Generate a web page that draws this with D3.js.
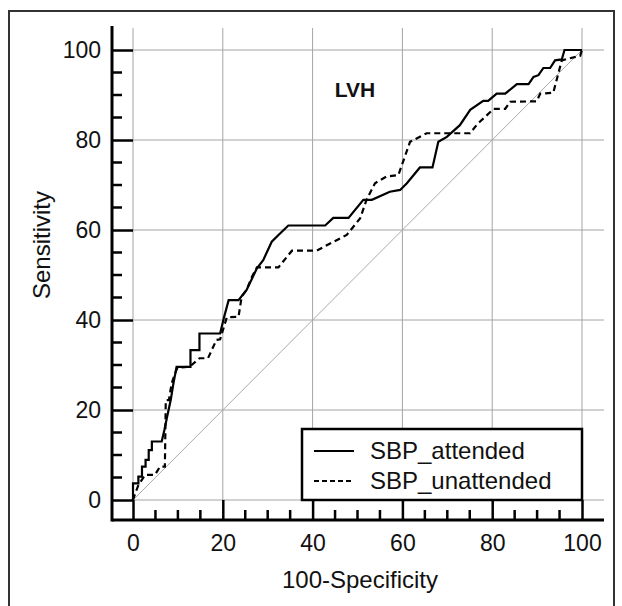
<!DOCTYPE html>
<html>
<head>
<meta charset="utf-8">
<script src="https://cdn.jsdelivr.net/npm/d3@7"></script>
<style>
  body { margin: 0; background: #fff; }
  svg text { font-family: "Liberation Sans", Arial, sans-serif; fill: #111; }
</style>
</head>
<body>
<div id="plot"></div>
<script>
const WIDTH = 622;
const HEIGHT = 606;

// ROC points (100-Specificity, Sensitivity)
const attendedFpr = [0, 0, 1.2, 1.2, 2.0, 2.0, 2.8, 2.8, 3.5, 3.5, 4.2, 4.2, 6.4, 7.0, 7.6, 8.4, 9.0, 9.7,
    12.8, 12.8, 14.8, 14.8, 19.4, 20.3, 21.3, 23.5, 25.3, 27.6, 29.0, 30.9, 32.4, 34.6, 42.8, 44.6,
    48.0, 51.3, 53.2, 57.2, 59.5, 61.0, 63.9, 66.7, 68.0, 69.9, 72.8, 75.1, 78.0, 79.1, 81.0, 82.9,
    85.5, 88.1, 89.2, 90.3, 91.4, 92.9, 94.0, 95.5, 96.1, 100];
const attendedSens = [0, 3.7, 3.7, 5.2, 5.2, 7.4, 7.4, 8.9, 8.9, 11.1, 11.1, 13.0, 13.0, 15.6, 18.5, 22.2, 25.9, 29.6,
    29.6, 33.3, 33.3, 37.0, 37.0, 40.7, 44.4, 44.4, 46.7, 51.5, 53.3, 57.4, 58.9, 61.0, 61.0, 62.7,
    62.7, 66.7, 66.7, 68.5, 68.9, 70.4, 73.9, 73.9, 79.6, 80.7, 83.3, 86.7, 88.7, 88.7, 90.3, 90.3,
    92.4, 92.4, 94.0, 94.4, 96.0, 96.0, 97.7, 97.9, 100, 100];

const unattendedFpr = [0, 0.5, 1.2, 2.7, 4.9, 6.0, 7.1, 7.3, 8.0, 8.6, 9.4, 9.9, 12.6, 14.8, 16.7, 18.6,
    19.4, 20.9, 23.5, 24.2, 25.3, 26.5, 27.6, 32.4, 35.4, 40.9, 43.9, 47.6, 50.6, 52.0, 53.9, 56.5,
    59.1, 61.7, 65.4, 75.1, 76.5, 77.3, 80.3, 82.9, 84.0, 89.9, 90.7, 93.6, 95.5, 97.0, 99.6, 100];
const unattendedSens = [0, 1.5, 3.3, 5.6, 5.6, 7.4, 7.4, 22.2, 22.2, 25.9, 28.2, 29.4, 29.6, 31.5, 31.5, 35.6,
    35.7, 40.6, 40.7, 45.2, 46.7, 49.6, 51.7, 51.7, 55.4, 55.4, 57.0, 58.9, 62.6, 66.7, 70.4, 71.9,
    72.2, 79.6, 81.5, 81.5, 83.3, 84.1, 86.9, 86.9, 88.5, 88.6, 90.3, 90.5, 97.7, 98.1, 98.7, 100];

const seriesNames = ['SBP_attended', 'SBP_unattended'];
const majorTicks = [0, 20, 40, 60, 80, 100];
const minorTicks = [5, 10, 15, 25, 30, 35, 45, 50, 55, 65, 70, 75, 85, 90, 95];

var svg = d3.select('#plot')
    .append('svg')
    .attr('width', WIDTH)
    .attr('height', HEIGHT);

// outer frame
svg.append('rect')
    .attr('x', 9).attr('y', 11)
    .attr('width', 605).attr('height', 605)
    .attr('fill', 'none')
    .attr('stroke', '#333')
    .attr('stroke-width', 2);

var x = d3.scaleLinear().domain([0, 100]).range([133, 582]);
var y = d3.scaleLinear().domain([0, 100]).range([500, 50]);

const axisX = 112;   // y axis line position
const axisY = 520;   // x axis line position
const gridEnd = 104.9;

// grid
var grid = svg.append('g')
    .attr('stroke', '#a4a4a4')
    .attr('stroke-width', 1);

grid.selectAll('.vg')
    .data(majorTicks)
    .enter()
    .append('line')
    .attr('x1', d => x(d)).attr('x2', d => x(d))
    .attr('y1', y(0)).attr('y2', y(gridEnd));

grid.selectAll('.hg')
    .data(majorTicks)
    .enter()
    .append('line')
    .attr('x1', x(0)).attr('x2', x(gridEnd))
    .attr('y1', d => y(d)).attr('y2', d => y(d));

// diagonal reference line
svg.append('line')
    .attr('x1', x(0)).attr('y1', y(0))
    .attr('x2', x(100)).attr('y2', y(100))
    .attr('stroke', '#aaa')
    .attr('stroke-width', 1);

// axes
var xAxis = svg.append('g')
    .attr('transform', `translate(0,${axisY})`)
    .call(d3.axisBottom(x).tickValues(majorTicks).tickSize(-(axisY - y(0))).tickPadding(15));

var yAxis = svg.append('g')
    .attr('transform', `translate(${axisX},0)`)
    .call(d3.axisLeft(y).tickValues(majorTicks).tickSize(-(x(0) - axisX)).tickPadding(11));

[xAxis, yAxis].forEach(g => {
    g.select('.domain').remove();
    g.selectAll('.tick line').attr('stroke', '#000').attr('stroke-width', 2.5);
    g.selectAll('.tick text').attr('font-size', 23).attr('fill', '#111')
        .style('font-family', '"Liberation Sans", Arial, sans-serif');
});

svg.append('g').selectAll('line')
    .data(minorTicks)
    .enter()
    .append('line')
    .attr('x1', d => x(d)).attr('x2', d => x(d))
    .attr('y1', axisY).attr('y2', axisY - 10)
    .attr('stroke', '#000').attr('stroke-width', 2.5);

svg.append('g').selectAll('line')
    .data(minorTicks)
    .enter()
    .append('line')
    .attr('x1', axisX).attr('x2', axisX + 10)
    .attr('y1', d => y(d)).attr('y2', d => y(d))
    .attr('stroke', '#000').attr('stroke-width', 2.5);

// axis lines
svg.append('line')
    .attr('x1', axisX).attr('x2', x(gridEnd))
    .attr('y1', axisY).attr('y2', axisY)
    .attr('stroke', '#000').attr('stroke-width', 3);
svg.append('line')
    .attr('x1', axisX).attr('x2', axisX)
    .attr('y1', axisY + 1.5).attr('y2', y(gridEnd) - 2)
    .attr('stroke', '#000').attr('stroke-width', 3);

// axis titles
svg.append('text')
    .attr('x', 360).attr('y', 588)
    .attr('text-anchor', 'middle')
    .attr('font-size', 24)
    .text('100-Specificity');

svg.append('text')
    .attr('transform', 'translate(50,245) rotate(-90)')
    .attr('text-anchor', 'middle')
    .attr('font-size', 24)
    .text('Sensitivity');

svg.append('text')
    .attr('x', 355).attr('y', 97)
    .attr('text-anchor', 'middle')
    .attr('font-size', 21)
    .attr('font-weight', 'bold')
    .text('LVH');

// curves
var line = d3.line()
    .x(d => x(d[0]))
    .y(d => y(d[1]));

svg.append('path')
    .datum(d3.zip(unattendedFpr, unattendedSens))
    .attr('d', line)
    .attr('fill', 'none')
    .attr('stroke', '#000')
    .attr('stroke-width', 2.2)
    .attr('stroke-dasharray', '6,4');

svg.append('path')
    .datum(d3.zip(attendedFpr, attendedSens))
    .attr('d', line)
    .attr('fill', 'none')
    .attr('stroke', '#000')
    .attr('stroke-width', 2.2);

// legend
var legend = svg.append('g');
legend.append('rect')
    .attr('x', 302).attr('y', 429)
    .attr('width', 280).attr('height', 71)
    .attr('fill', '#fff')
    .attr('stroke', '#000')
    .attr('stroke-width', 2.5);

seriesNames.forEach((name, i) => {
    let ly = 451 + i * 30;
    legend.append('line')
        .attr('x1', 314).attr('x2', 354)
        .attr('y1', ly).attr('y2', ly)
        .attr('stroke', '#000')
        .attr('stroke-width', 1.8)
        .attr('stroke-dasharray', i == 0 ? null : '5,3');
    legend.append('text')
        .attr('x', 370).attr('y', ly + 8)
        .attr('font-size', 24)
        .text(name);
});
</script>
</body>
</html>
